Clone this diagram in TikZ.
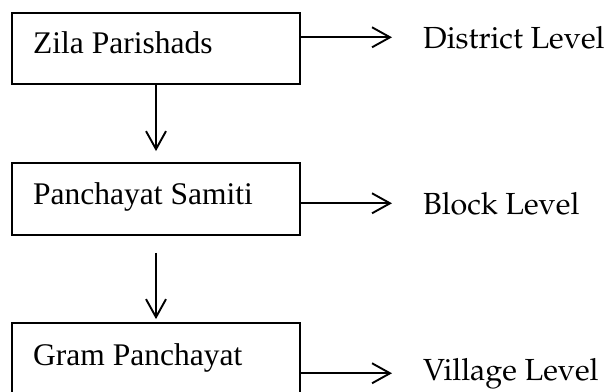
\documentclass[tikz,border=0pt]{standalone}
\usepackage{fontspec}
\setmainfont{Liberation Serif}
\usepackage[T1,TU]{fontenc}
\usetikzlibrary{arrows.meta}
\newcommand\palfont{\fontencoding{T1}\fontfamily{ppl}\selectfont}
\begin{document}
\begin{tikzpicture}[x=1pt,y=-1pt,
  box/.style={draw,line width=1.8pt,minimum width=288pt,minimum height=71pt,inner sep=0pt},
  boxtext/.style={anchor=base west,inner sep=0pt,font=\fontsize{31.5}{36}\selectfont},
  leveltext/.style={anchor=base west,inner sep=0pt,font=\palfont\fontsize{30.5}{36}\selectfont},
  conn/.style={line width=1.9pt,-{Straight Barb[length=18pt,width=20pt]}}]
\clip (0,0) rectangle (613,391);
\node[box] (z) at (156,48.5) {};
\node[box,minimum height=72pt] (p) at (156,199) {};
\node[box,minimum height=80pt] (g) at (156,363) {};
\node[boxtext] (zt) at (33,53) {Zila Parishads};
\node[boxtext] (pt) at (33,204) {Panchayat Samiti};
\node[boxtext] (gt) at (33,365) {Gram Panchayat};
\node[leveltext] (dl) at (423,48) {District Level};
\node[leveltext] (bl) at (423,214) {Block Level};
\node[leveltext] (vl) at (423,380) {Village Level};
\draw[conn,shorten >=11pt] (z.south) -- (p.north);
\draw[conn,shorten <=17pt,shorten >=3pt] (p.south) -- (g.north);
\draw[conn,shorten >=31pt] (z.east |- dl.west) -- (dl.west);
\draw[conn,shorten >=31pt] (p.east |- bl.west) -- (bl.west);
\draw[conn,shorten >=31pt] (g.east |- vl.west) -- (vl.west);
\end{tikzpicture}
\end{document}
